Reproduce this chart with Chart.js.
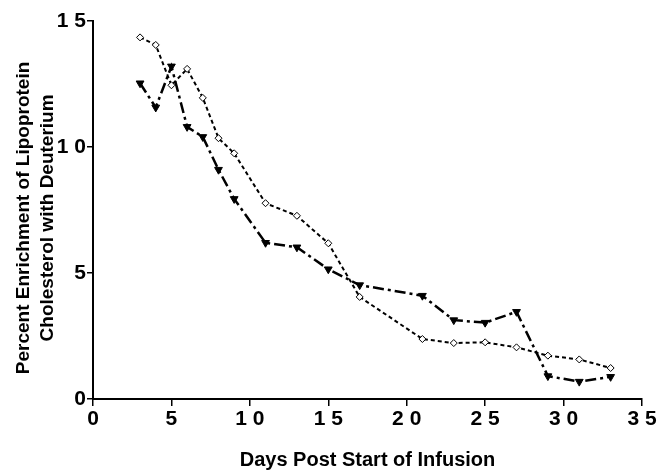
<!DOCTYPE html>
<html>
<head>
<meta charset="utf-8">
<script src="https://cdn.jsdelivr.net/npm/chart.js@4.4.0/dist/chart.umd.min.js"></script>
<style>
  html, body { margin: 0; padding: 0; background: #fff; }
  #wrap { width: 658px; height: 472px; }
</style>
</head>
<body>
<div id="wrap"><canvas id="chart" width="658" height="472"></canvas></div>
<script>
"use strict";

// days post start of infusion
const diamondDays = [3, 4, 5, 6, 7, 8, 9, 11, 13, 15, 17, 21, 23, 25, 27, 29, 31, 33];
const diamondValues = [14.35, 14.05, 12.45, 13.1, 11.95, 10.35, 9.75, 7.77, 7.27, 6.18, 4.05, 2.38, 2.22, 2.25, 2.05, 1.72, 1.57, 1.23];

const triangleDays = [3, 4, 5, 6, 7, 8, 9, 11, 13, 15, 17, 21, 23, 25, 27, 29, 31, 33];
const triangleValues = [12.53, 11.57, 13.2, 10.8, 10.4, 9.1, 7.94, 6.2, 6.02, 5.15, 4.52, 4.1, 3.13, 3.03, 3.46, 0.91, 0.69, 0.88];

const xTicks = [0, 5, 10, 15, 20, 25, 30, 35];
const yTicks = [0, 5, 10, 15];

function toPoints(xs, ys) {
  let pts = [];
  for (let i = 0; i < xs.length; i++) {
    pts.push({ x: xs[i], y: ys[i] });
  }
  return pts;
}

// spaced digits like "1 5"
function spaced(v) {
  return String(v).split("").join(" ");
}

const tickFont = { family: "Liberation Sans, Arial, sans-serif", size: 21, weight: "bold" };
const xTitleFont = { family: "Liberation Sans, Arial, sans-serif", size: 20, weight: "bold" };
const yTitleFont = { family: "Liberation Sans Narrow, Arial Narrow, sans-serif", size: 19, weight: "bold", lineHeight: 1.26 };

const data = {
  datasets: [
    {
      label: "diamond",
      data: toPoints(diamondDays, diamondValues),
      borderColor: "#000",
      borderWidth: 2,
      borderDash: [4, 3],
      pointStyle: "rectRot",
      pointRadius: 3.5,
      pointBackgroundColor: "#fff",
      pointBorderColor: "#000",
      pointBorderWidth: 1,
      fill: false,
      tension: 0,
    },
    {
      label: "triangle",
      data: toPoints(triangleDays, triangleValues),
      borderColor: "#000",
      borderWidth: 2.5,
      borderDash: [11, 4, 3, 4],
      pointStyle: "triangle",
      pointRotation: 180,
      pointRadius: 4.5,
      pointBackgroundColor: "#000",
      pointBorderColor: "#000",
      pointBorderWidth: 1,
      fill: false,
      tension: 0,
    },
  ],
};

const config = {
  type: "line",
  data: data,
  options: {
    responsive: false,
    animation: false,
    layout: { padding: { top: 21, right: 16, left: 0, bottom: 0 } },
    plugins: { legend: { display: false }, tooltip: { enabled: false } },
    scales: {
      x: {
        type: "linear",
        min: 0,
        max: 35,
        afterBuildTicks: (axis) => { axis.ticks = xTicks.map((v) => ({ value: v })); },
        afterFit: (axis) => { axis.height = 73; },
        border: { display: true, color: "#000", width: 2 },
        grid: { display: true, drawOnChartArea: false, drawTicks: true, tickLength: 7, color: "#000", lineWidth: 1.5 },
        ticks: { color: "#000", font: tickFont, padding: 1, maxRotation: 0, callback: (v) => spaced(v) },
        title: { display: true, text: "Days Post Start of Infusion", color: "#000", font: xTitleFont, padding: { top: 14, bottom: 0 } },
      },
      y: {
        type: "linear",
        min: 0,
        max: 15,
        afterBuildTicks: (axis) => { axis.ticks = yTicks.map((v) => ({ value: v })); },
        afterFit: (axis) => { axis.width = 93; },
        border: { display: true, color: "#000", width: 2 },
        grid: { display: true, drawOnChartArea: false, drawTicks: true, tickLength: 6, color: "#000", lineWidth: 1.5 },
        ticks: { color: "#000", font: tickFont, padding: 1, callback: (v) => spaced(v) },
        title: {
          display: true,
          text: ["Percent Enrichment of Lipoprotein   ", "Cholesterol with Deuterium   "],
          color: "#000",
          font: yTitleFont,
          padding: { top: 12, bottom: 0 },
        },
      },
    },
  },
};

const myChart = new Chart(document.getElementById("chart"), config);
</script>
</body>
</html>
